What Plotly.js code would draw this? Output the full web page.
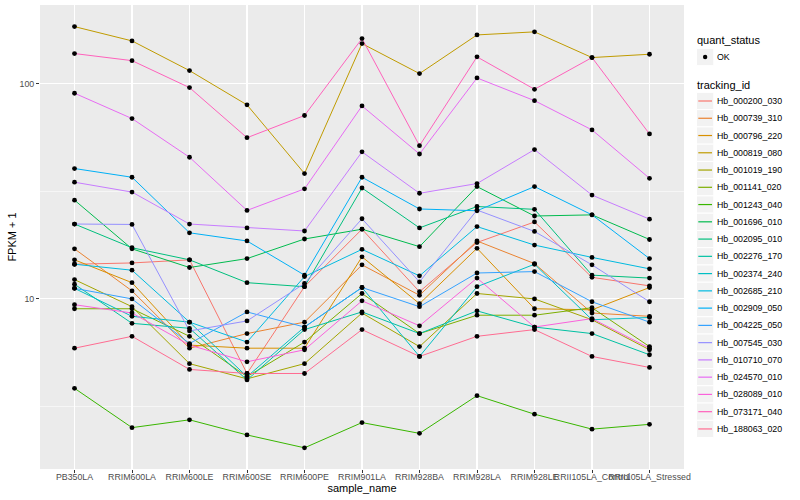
<!DOCTYPE html>
<html><head><meta charset="utf-8">
<script src="https://cdn.plot.ly/plotly-3.0.1.min.js"></script>
<style>html,body{margin:0;padding:0;background:#fff}#chart{width:800px;height:500px}</style>
</head><body><div id="chart"></div>
<script>
const samples = ['PB350LA','RRIM600LA','RRIM600LE','RRIM600SE','RRIM600PE','RRIM901LA','RRIM928BA','RRIM928LA','RRIM928LE','RRII105LA_Control','RRII105LA_Stressed'];
const trackingIds = ['Hb_000200_030','Hb_000739_310','Hb_000796_220','Hb_000819_080','Hb_001019_190','Hb_001141_020','Hb_001243_040','Hb_001696_010','Hb_002095_010','Hb_002276_170','Hb_002374_240','Hb_002685_210','Hb_002909_050','Hb_004225_050','Hb_007545_030','Hb_010710_070','Hb_024570_010','Hb_028089_010','Hb_073171_040','Hb_188063_020'];
const colors = ['#F8766D','#EA8331','#D89000','#C09B00','#A3A500','#7CAE00','#39B600','#00BB4E','#00BF7D','#00C1A3','#00BFC4','#00BAE0','#00B0F6','#35A2FF','#9590FF','#C77CFF','#E76BF3','#FA62DB','#FF62BC','#FF6C91'];
const quantStatus = ['OK'];

// FPKM + 1 per sample, one array per tracking_id
const hb000200_030 = [14.5, 14.7, 15.2, 4.5, 11.4, 21.1, 10.8, 18.3, 22.8, 12.6, 11.5];
const hb000739_310 = [17.1, 10.9, 5.9, 6.9, 7.8, 14.4, 10.4, 18.6, 14.6, 8.6, 8.3];
const hb000796_220 = [15.2, 11.9, 6.1, 5.9, 5.9, 15.7, 9.5, 17.2, 9.0, 8.9, 11.3];
const hb000819_080 = [184.7, 158.5, 115.3, 79.9, 38.3, 154, 111.7, 169, 174.6, 132.6, 137.4];
const hb001019_190 = [12.3, 9.2, 5.0, 4.25, 5.0, 8.6, 6.0, 10.6, 10.0, 8.0, 5.8];
const hb001141_020 = [9.0, 9.0, 6.7, 4.35, 6.3, 10.6, 6.9, 8.4, 8.4, 9.1, 6.0];
const hb001243_040 = [3.84, 2.52, 2.74, 2.33, 2.03, 2.66, 2.37, 3.55, 2.91, 2.48, 2.61];
const hb001696_010 = [28.8, 17.1, 14.0, 15.4, 19.0, 21.1, 17.5, 33.3, 24.3, 24.6, 18.9];
const hb002095_010 = [22.3, 17.3, 15.2, 11.9, 11.4, 32.8, 21.4, 26.9, 26.1, 12.9, 12.5];
const hb002276_170 = [11.7, 7.7, 7.3, 4.2, 7.2, 8.7, 6.9, 8.8, 7.4, 6.9, 5.5];
const hb002374_240 = [11.2, 8.3, 7.8, 4.35, 7.4, 11.3, 5.4, 11.4, 14.5, 8.0, 8.2];
const hb002685_210 = [14.5, 13.6, 7.8, 6.3, 12.7, 17.0, 12.8, 21.7, 17.8, 15.6, 13.8];
const hb002909_050 = [40.4, 36.8, 20.3, 18.6, 12.9, 36.8, 26.2, 25.7, 33.3, 24.6, 15.4];
const hb004225_050 = [11.2, 10.0, 6.2, 8.7, 7.4, 11.3, 9.2, 13.2, 13.4, 9.7, 7.8];
const hb007545_030 = [22.3, 22.2, 7.1, 7.9, 11.8, 23.6, 12.0, 25.9, 20.6, 14.4, 9.7];
const hb010710_070 = [34.9, 31.4, 22.3, 21.4, 20.7, 48.3, 31.0, 34.4, 49.5, 30.4, 23.5];
const hb024570_010 = [90.5, 69.0, 45.6, 25.8, 32.5, 79.0, 47.2, 106.6, 83.6, 61.1, 36.4];
const hb028089_010 = [9.4, 8.6, 6.1, 5.1, 5.8, 9.8, 7.5, 12.5, 7.4, 8.1, 5.9];
const hb073171_040 = [138.4, 128.3, 96.1, 56.2, 71.3, 162.5, 51.6, 133.6, 94.4, 132.6, 58.5];
const hb188063_020 = [5.9, 6.7, 4.7, 4.5, 4.5, 7.2, 5.4, 6.7, 7.2, 5.4, 4.8];

const seriesValues = [hb000200_030, hb000739_310, hb000796_220, hb000819_080, hb001019_190, hb001141_020, hb001243_040, hb001696_010, hb002095_010, hb002276_170, hb002374_240, hb002685_210, hb002909_050, hb004225_050, hb007545_030, hb010710_070, hb024570_010, hb028089_010, hb073171_040, hb188063_020];

const FONT = 'Liberation Sans, Arial, Helvetica, sans-serif';
const traces = seriesValues.map((vals, k) => ({
  type: 'scatter', mode: 'lines', x: samples, y: vals,
  name: trackingIds[k], showlegend: false,
  line: {color: colors[k], width: 1}, hoverinfo: 'skip'
}));
const ptsX = [], ptsY = [];
seriesValues.forEach(vals => vals.forEach((v, i) => { ptsX.push(samples[i]); ptsY.push(v); }));
traces.push({
  type: 'scatter', mode: 'markers', x: ptsX, y: ptsY, name: quantStatus[0], showlegend: false,
  marker: {color: '#000', size: 4.8}, hoverinfo: 'skip'
});

// ggplot-style legend drawn in the right margin (pixel layout -> paper coords)
const M = {l: 40, r: 116, t: 5, b: 31};
const PW = 800 - M.l - M.r, PH = 500 - M.t - M.b;
const PX = x => (x - M.l) / PW, PY = y => (500 - M.b - y) / PH;
const shapes = [], annotations = [];
const KEY_X0 = 696.5, KEY_X1 = 713.8, KEY_H = 17.26, TEXT_X = 715;
function title(txt, cy) {
  annotations.push({xref: 'paper', yref: 'paper', x: PX(695), y: PY(cy), xanchor: 'left', yanchor: 'middle',
    text: txt, showarrow: false, font: {size: 11, family: FONT, color: '#000'}});
}
function keyBox(cy) {
  shapes.push({type: 'rect', xref: 'paper', yref: 'paper', x0: PX(KEY_X0), x1: PX(KEY_X1),
    y0: PY(cy - KEY_H / 2), y1: PY(cy + KEY_H / 2), fillcolor: '#F2F2F2', line: {color: '#FFFFFF', width: 1}, layer: 'above'});
}
function label(txt, cy) {
  annotations.push({xref: 'paper', yref: 'paper', x: PX(TEXT_X), y: PY(cy), xanchor: 'left', yanchor: 'middle',
    text: txt, showarrow: false, font: {size: 8.8, family: FONT, color: '#000'}});
}
title('quant_status', 40);
keyBox(57); label(quantStatus[0], 57);
const cxOK = (KEY_X0 + KEY_X1) / 2;
shapes.push({type: 'circle', xref: 'paper', yref: 'paper', x0: PX(cxOK - 2.2), x1: PX(cxOK + 2.2), y0: PY(57 - 2.2), y1: PY(57 + 2.2),
  fillcolor: '#000', line: {width: 0}, layer: 'above'});
title('tracking_id', 84.5);
trackingIds.forEach((id, k) => {
  const cy = 101 + k * KEY_H;
  keyBox(cy);
  shapes.push({type: 'line', xref: 'paper', yref: 'paper', x0: PX(698.3), x1: PX(712), y0: PY(cy), y1: PY(cy),
    line: {color: colors[k], width: 1.2}, layer: 'above'});
  label(id, cy);
});

const layout = {
  width: 800, height: 500,
  margin: M,
  paper_bgcolor: '#FFFFFF', plot_bgcolor: '#EBEBEB',
  font: {family: FONT, color: '#000'},
  showlegend: false,
  shapes: shapes, annotations: annotations,
  xaxis: {
    type: 'category', categoryorder: 'array', categoryarray: samples,
    range: [-0.6, 10.6], tickangle: 0, automargin: false,
    tickfont: {size: 8.8, color: '#4D4D4D', family: FONT},
    ticks: 'outside', ticklen: 3, tickcolor: '#333333', tickwidth: 1,
    ticklabelstandoff: -4,
    showgrid: true, gridcolor: '#FFFFFF', gridwidth: 1.1,
    zeroline: false, showline: false,
    title: {text: 'sample_name', font: {size: 11, color: '#000', family: FONT}, standoff: 1}
  },
  yaxis: {
    type: 'log', range: [0.209, 2.367], automargin: false,
    tickmode: 'array', tickvals: [10, 100], ticktext: ['10', '100'],
    tickfont: {size: 8.8, color: '#4D4D4D', family: FONT},
    ticks: 'outside', ticklen: 3, tickcolor: '#333333', tickwidth: 1,
    showgrid: true, gridcolor: '#FFFFFF', gridwidth: 1.1,
    minor: {tickmode: 'array', tickvals: [Math.sqrt(10), Math.sqrt(1000)], showgrid: true, gridcolor: '#FFFFFF', gridwidth: 0.55, ticks: ''},
    zeroline: false, showline: false,
    title: {text: 'FPKM + 1', font: {size: 11, color: '#000', family: FONT}, standoff: 0}
  }
};
Plotly.newPlot('chart', traces, layout, {displayModeBar: false, staticPlot: true});
</script>
</body></html>
